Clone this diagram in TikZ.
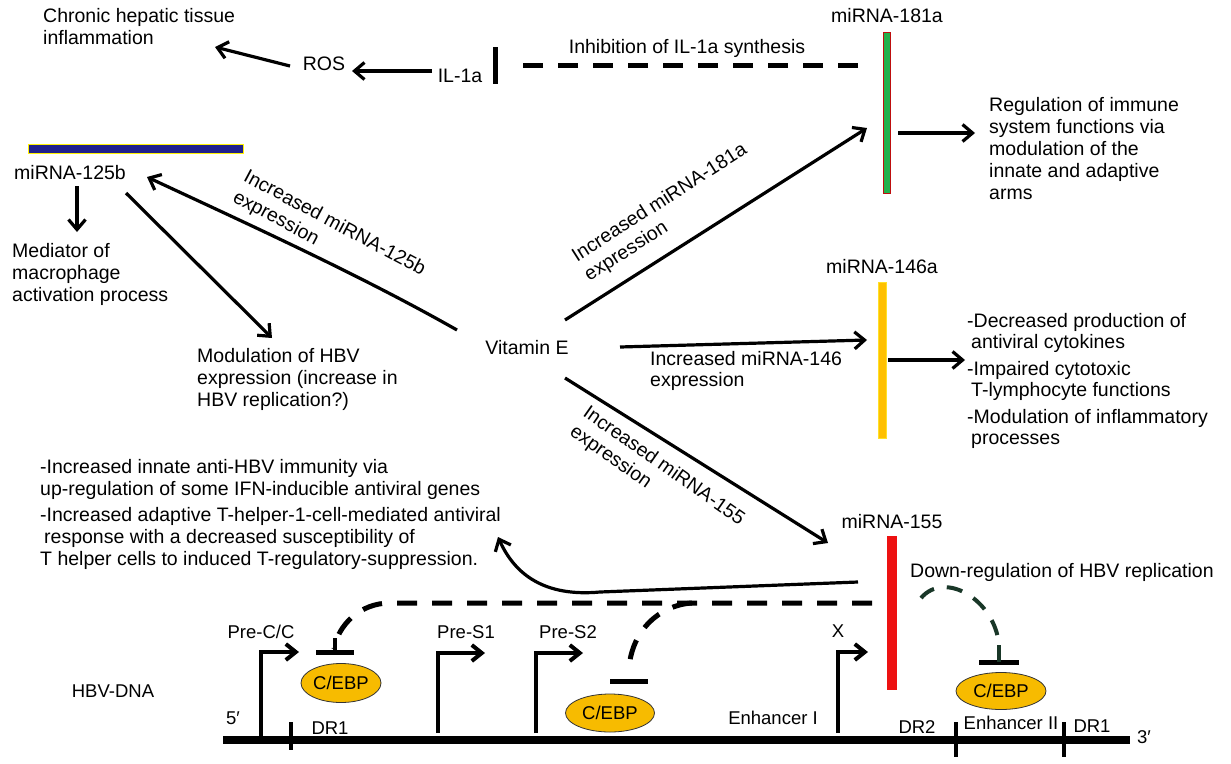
\documentclass[tikz,border=0pt]{standalone}
\usepackage{fontspec}
\setmainfont{Liberation Sans}
\usetikzlibrary{arrows.meta,shapes.geometric}
\definecolor{g181}{RGB}{34,177,76}
\definecolor{y146}{RGB}{255,192,0}
\definecolor{y146b}{RGB}{255,225,40}
\definecolor{r155}{RGB}{237,17,17}
\definecolor{navy125}{RGB}{32,32,140}
\definecolor{cebpfill}{RGB}{247,187,0}
\definecolor{dkgreen}{RGB}{25,55,40}
\begin{document}
\begin{tikzpicture}[x=1pt,y=-1pt,
  txt/.style={font=\fontsize{19.5}{22}\selectfont, inner sep=0pt},
  sml/.style={font=\fontsize{18.5}{21}\selectfont, inner sep=0pt},
  blk/.style={txt, align=left, anchor=north west},
  arr/.style={line width=3.2pt, -{Straight Barb[length=10pt,width=17pt]}},
  prom/.style={line width=4pt, line join=miter, -{Straight Barb[length=10pt,width=16pt]}},
  tbar/.style={line width=5pt},
  dsh/.style={line width=5pt, dash pattern=on 20pt off 15pt},
  dshg/.style={line width=4pt, dkgreen, dash pattern=on 16pt off 13pt},
  cebp/.style={ellipse, draw=black!80, line width=0.8pt, fill=cebpfill, sml, inner sep=0pt},
  barbox/.style={inner sep=0pt, outer sep=0pt}
]
\useasboundingbox (0,0) rectangle (1231,763);

% ---------- top ----------
\node[blk] (chronic) at (43,8) {Chronic hepatic tissue\\inflammation};
\node[txt] (ros) at (324,64) {ROS};
\node[txt] (il1a) at (460,76) {IL-1a};
\node[txt] (inhib) at (687,48) {Inhibition of IL-1a synthesis};
\node[txt] (l181) at (887,16) {miRNA-181a};
\node[barbox, draw=r155!80!black, line width=0.7pt, fill=g181, minimum width=7pt, minimum height=161pt] (b181) at (886.5,112.5) {};
\node[blk] (reg) at (989,97) {Regulation of immune\\system functions via\\modulation of the\\innate and adaptive\\arms};

\coordinate (rosOut) at (290,66);
\coordinate (chrIn) at (215,47);
\draw[arr] (rosOut) -- (chrIn);
\coordinate (ilOut) at (432,71);
\coordinate (rosIn) at (352,71);
\draw[arr] (ilOut) -- (rosIn);
\coordinate (tA) at (495,47);
\coordinate (tB) at (495,84);
\draw[tbar] (tA) -- (tB);
\coordinate (dA) at (858,65);
\coordinate (dB) at (510,65);
\draw[dsh] (dA) -- (dB);
\coordinate (regOut) at (898,133);
\coordinate (regIn) at (975,133);
\draw[arr] (regOut) -- (regIn);

% ---------- miRNA-125b ----------
\node[barbox, fill=navy125, draw=yellow, line width=1pt, minimum width=215pt, minimum height=9pt] (b125) at (135.5,148.5) {};
\node[txt, anchor=west] (l125) at (14,173) {miRNA-125b};
\node[blk] (mediator) at (12,243) {Mediator of\\macrophage\\activation process};
\node[blk] (modul) at (197,348) {Modulation of HBV\\expression (increase in\\HBV replication?)};
\coordinate (m1) at (77,186);
\coordinate (m2) at (77,232);
\draw[arr] (m1) -- (m2);
\coordinate (h1) at (126,193);
\coordinate (h2) at (272,338);
\draw[arr] (h1) -- (h2);

% ---------- Vitamin E ----------
\node[txt] (vite) at (527,348) {Vitamin E};
\coordinate (v125) at (457,330);
\coordinate (t125) at (147,177);
\draw[arr] (v125) .. controls (360,275) and (250,225) .. (t125);
\node[txt, align=left, rotate=-28, font=\fontsize{19.5}{23}\selectfont] (lab125) at (329,234) {Increased miRNA-125b\\expression};

\coordinate (v181) at (565,320);
\coordinate (t181) at (867,128);
\draw[arr] (v181) -- (t181);
\node[txt, align=left, rotate=32.5, font=\fontsize{19.5}{23}\selectfont] (lab181) at (666,213) {Increased miRNA-181a\\expression};

\coordinate (v146) at (620,347);
\coordinate (t146) at (867,340);
\draw[arr] (v146) -- (t146);
\node[txt, align=left, anchor=north west, font=\fontsize{19.5}{21}\selectfont] (lab146) at (650,351) {Increased miRNA-146\\expression};

\node[txt] (l146) at (882,267) {miRNA-146a};
\node[barbox, fill=y146, draw=y146b, line width=0.8pt, minimum width=8pt, minimum height=156pt] (b146) at (882,360) {};
\coordinate (e146a) at (888,360);
\coordinate (e146b) at (965,360);
\draw[arr] (e146a) -- (e146b);
\node[blk, font=\fontsize{19.5}{21.5}\selectfont] (eff146) at (967,313) {-Decreased production of\\\hspace*{4pt}antiviral cytokines\\[5pt]-Impaired cytotoxic\\\hspace*{4pt}T-lymphocyte functions\\[5pt]-Modulation of inflammatory\\\hspace*{4pt}processes};

\coordinate (v155) at (565,378);
\coordinate (t155) at (828,543);
\draw[arr] (v155) -- (t155);
\node[txt, align=left, rotate=-35, font=\fontsize{19.5}{23}\selectfont] (lab155) at (657,476) {Increased miRNA-155\\expression};

% ---------- miRNA-155 ----------
\node[txt] (l155) at (892,522) {miRNA-155};
\node[barbox, fill=r155, minimum width=10pt, minimum height=154pt] (b155) at (892,613) {};
\node[txt, anchor=west] (down) at (910,572) {Down-regulation of HBV replication};
\node[blk] (anti) at (40,459) {-Increased innate anti-HBV immunity via\\up-regulation of some IFN-inducible antiviral genes\\[4pt]-Increased adaptive T-helper-1-cell-mediated antiviral\\\hspace*{4pt}response with a decreased susceptibility of\\T helper cells to induced T-regulatory-suppression.};

\coordinate (s1) at (858,582);
\coordinate (s2) at (498,537);
\draw[arr] (s1) -- (600,592) .. controls (545,597) and (515,575) .. (s2);

% ---------- DNA ----------
\node[sml] (hbv) at (113,691) {HBV-DNA};
\node[sml] (five) at (233,718) {5′};
\node[sml] (three) at (1144,737) {3′};
\coordinate (dna1) at (223,740);
\coordinate (dna2) at (1130,740);
\draw[line width=8pt] (dna1) -- (dna2);
\draw[line width=4pt] (291,722) -- (291,750);
\draw[line width=4pt] (956,722) -- (956,757);
\draw[line width=4pt] (1064,722) -- (1064,757);
\node[sml] (dr1a) at (330,728) {DR1};
\node[sml] (enh1) at (773,718) {Enhancer I};
\node[sml] (dr2) at (917,727) {DR2};
\node[sml] (enh2) at (1011,723) {Enhancer II};
\node[sml] (dr1b) at (1092,726) {DR1};

\node[sml] (pcc) at (261,632) {Pre-C/C};
\node[sml] (ps1) at (466,632) {Pre-S1};
\node[sml] (ps2) at (568,632) {Pre-S2};
\node[sml] (px) at (838,631) {X};
\draw[prom] (261,738) -- (261,652) -- (299,652);
\draw[prom] (438,733) -- (438,653) -- (485,653);
\draw[prom] (536,733) -- (536,653) -- (583,653);
\draw[prom] (838,733) -- (838,652) -- (868,652);

\node[cebp, minimum width=80pt, minimum height=39pt] (c1) at (341,683) {C/EBP};
\node[cebp, minimum width=89pt, minimum height=38pt] (c2) at (610,713) {C/EBP};
\node[cebp, minimum width=90pt, minimum height=37pt] (c3) at (1001,691) {C/EBP};

% inhibition of C/EBP
\draw[tbar] (316,652) -- (354,652);
\draw[tbar] (610,681) -- (648,681);
\draw[tbar] (979,662) -- (1019,662);
\coordinate (d155) at (872,603);
\draw[dsh] (d155) -- (390,603) .. controls (360,603) and (338,625) .. (334,649);
\draw[line width=4pt] (334.5,638) -- (334.5,652);
\draw[dsh] (692,603) .. controls (660,605) and (632,630) .. (629,668);
\draw[dshg] (921,598) .. controls (945,570) and (995,600) .. (999,645);
\draw[line width=4pt, dkgreen] (999,645) -- (999,662);
\end{tikzpicture}
\end{document}
